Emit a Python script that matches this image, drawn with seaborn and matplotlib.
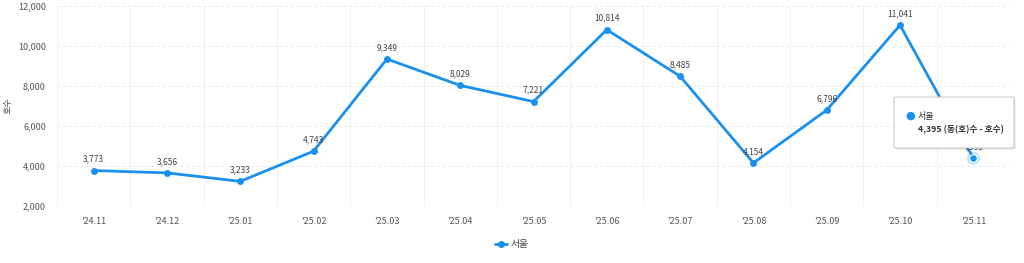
import matplotlib
matplotlib.use("Agg")
import matplotlib.pyplot as plt
import seaborn as sns
import pandas as pd
import numpy as np
from matplotlib.patches import FancyBboxPatch
from matplotlib.lines import Line2D

months = ["'24.11", "'24.12", "'25.01", "'25.02", "'25.03", "'25.04", "'25.05",
          "'25.06", "'25.07", "'25.08", "'25.09", "'25.10", "'25.11"]
seoul = [3773, 3656, 3233, 4743, 9349, 8029, 7221, 10814, 8485, 4154, 6796, 11041, 4395]
series_name = "서울"
y_label = "호수"
y_ticks = [2000, 4000, 6000, 8000, 10000, 12000]

sns.set_theme(style="white")
plt.rcParams['font.family'] = ['Noto Sans CJK KR', 'DejaVu Sans']

color = "#1a90f0"
df = pd.DataFrame({"pos": np.arange(len(months)), "value": seoul, "series": series_name})

fig = plt.figure(figsize=(10.24, 2.63), dpi=100)
ax = fig.add_axes([0.0557, 0.2167, 0.9306, 0.7605])

sns.lineplot(data=df, x="pos", y="value", ax=ax, color=color, marker="o",
             markersize=5, markeredgewidth=0, linewidth=2, legend=False, zorder=3)

ax.set_xlim(-0.5, len(months) - 0.5)
ax.set_ylim(2000, 12000)
ax.set_yticks(y_ticks)
ax.set_yticklabels([f"{v:,}" for v in y_ticks], fontsize=6.5, color="#555555")
ax.set_xticks(np.arange(len(months)))
ax.set_xticklabels(months, fontsize=6.5, color="#555555")
ax.set_xticks(np.arange(len(months) + 1) - 0.5, minor=True)
ax.tick_params(axis="both", which="both", length=0)
ax.tick_params(axis="x", pad=8)
ax.tick_params(axis="y", pad=8)

ax.grid(axis="y", which="major", color="#e6e6e6", linestyle=(0, (4, 3)), linewidth=0.6)
ax.grid(axis="x", which="minor", color="#eeeeee", linestyle="-", linewidth=0.6)
ax.grid(axis="x", which="major", visible=False)
for s in ax.spines.values():
    s.set_visible(False)

ax.set_xlabel("")
ax.set_ylabel(y_label, fontsize=6.5, color="#555555")
ax.yaxis.set_label_coords(-0.047, 0.5)

for i, v in enumerate(seoul):
    ax.annotate(f"{v:,}", (i, v), xytext=(0, 5), textcoords="offset points",
                ha="center", va="bottom", fontsize=6, color="#444444", zorder=4)

# highlighted last point
last = len(seoul) - 1
ax.scatter([last], [seoul[last]], s=90, color=color, alpha=0.25, linewidths=0, zorder=5)
ax.scatter([last], [seoul[last]], s=30, color=color, edgecolors="white", linewidths=0.8, zorder=6)

# tooltip
tx0, ty0, tw, th = 894, 97, 120, 51  # pixel box
W, H = 1024, 263
box = FancyBboxPatch((tx0 / W, 1 - (ty0 + th) / H), tw / W, th / H,
                     boxstyle="round,pad=0,rounding_size=0.004",
                     transform=fig.transFigure, facecolor="white",
                     edgecolor="#cccccc", linewidth=0.8, zorder=10)
shadow = FancyBboxPatch((tx0 / W + 0.0015, 1 - (ty0 + th) / H - 0.006), tw / W, th / H,
                        boxstyle="round,pad=0,rounding_size=0.004",
                        transform=fig.transFigure, facecolor="#000000",
                        alpha=0.12, edgecolor="none", zorder=9)
fig.add_artist(shadow)
fig.add_artist(box)
fig.text(910 / W, 1 - 116 / H, "●", color=color, fontsize=8, va="center", ha="center",
         family=['DejaVu Sans'], zorder=11)
fig.text(918 / W, 1 - 116 / H, series_name, fontsize=6.5, color="#333333", va="center",
         ha="left", zorder=11)
fig.text(918 / W, 1 - 130 / H, f"{seoul[last]:,} (동(호)수 - 호수)", fontsize=6.3,
         color="#333333", va="center", ha="left", fontweight="bold", zorder=11)

handle = Line2D([0], [0], color=color, marker="o", markersize=4, linewidth=2)
fig.legend([handle], [series_name], loc="center", bbox_to_anchor=(0.5, 1 - 244 / H),
           frameon=False, fontsize=7, handlelength=1.2, handletextpad=0.4,
           labelcolor="#444444")

fig.savefig("out.png", dpi=100)
